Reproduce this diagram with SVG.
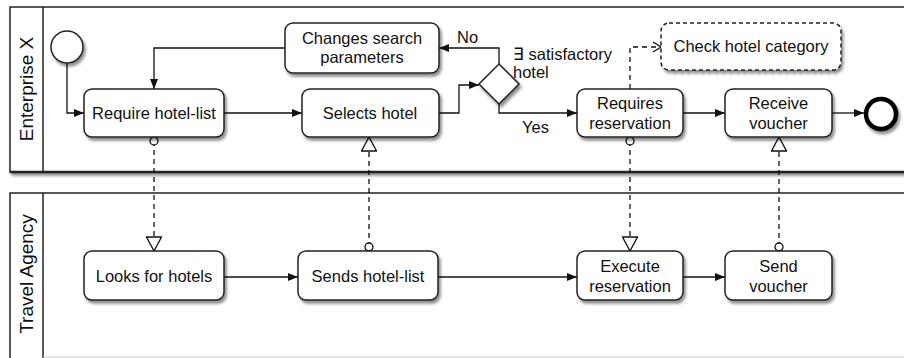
<svg xmlns="http://www.w3.org/2000/svg" width="904" height="358" viewBox="0 0 904 358">
<defs>
<style>
.pool{fill:#fff;stroke:#222;stroke-width:1.5}
.task{fill:#fff;stroke:#222;stroke-width:1.5}
.dtask{fill:#fff;stroke:#222;stroke-width:1.5;stroke-dasharray:4 3}
.t{font-family:"Liberation Sans",Arial,sans-serif;font-size:16.5px;fill:#111;text-anchor:middle}
.lbl{font-family:"Liberation Sans",Arial,sans-serif;font-size:16.5px;fill:#111}
.pl{font-family:"Liberation Sans",Arial,sans-serif;font-size:19px;fill:#111;text-anchor:middle}
.seq{fill:none;stroke:#111;stroke-width:1.3;marker-end:url(#arr)}
.msg{fill:none;stroke:#111;stroke-width:1.3;stroke-dasharray:5 4;marker-start:url(#mcirc);marker-end:url(#mtri)}
.assoc{fill:none;stroke:#111;stroke-width:1.3;stroke-dasharray:5 4;marker-end:url(#vopen)}
</style>
<filter id="sh" x="-10%" y="-10%" width="130%" height="140%">
<feDropShadow dx="2" dy="3" stdDeviation="1.5" flood-color="#000" flood-opacity="0.45"/>
</filter>
<marker id="arr" viewBox="0 0 10 10" refX="10" refY="5" markerWidth="10" markerHeight="10" markerUnits="userSpaceOnUse" orient="auto">
<path d="M0,1 L10,5 L0,9 Z" fill="#111"/>
</marker>
<marker id="mtri" viewBox="0 0 16 16" refX="15" refY="8" markerWidth="16" markerHeight="16" markerUnits="userSpaceOnUse" orient="auto">
<path d="M1,0.5 L15,8 L1,15.5 Z" fill="#fff" stroke="#111" stroke-width="1.3"/>
</marker>
<marker id="mcirc" viewBox="0 0 10 10" refX="5" refY="5" markerWidth="10" markerHeight="10" markerUnits="userSpaceOnUse" orient="auto">
<circle cx="5" cy="5" r="4" fill="#fff" stroke="#111" stroke-width="1.3"/>
</marker>
<marker id="vopen" viewBox="0 0 10 12" refX="9" refY="6" markerWidth="10" markerHeight="12" markerUnits="userSpaceOnUse" orient="auto">
<path d="M1,1 L9,6 L1,11" fill="none" stroke="#111" stroke-width="1.3"/>
</marker>
</defs>

<g id="pool-enterprise">
<rect class="pool" x="10" y="7" width="900" height="165" filter="url(#sh)"/>
<line x1="10" y1="172" x2="904" y2="172" stroke="#222" stroke-width="2.5"/>
<line x1="43" y1="7" x2="43" y2="172" stroke="#222" stroke-width="1.5"/>
<text class="pl" transform="translate(33,89) rotate(-90)">Enterprise X</text>
</g>
<g id="pool-travel">
<rect class="pool" x="10" y="193" width="900" height="175"/>
<line x1="43" y1="193" x2="43" y2="358" stroke="#222" stroke-width="1.5"/>
<line x1="43" y1="357" x2="904" y2="357" stroke="#ccc" stroke-width="1"/>
<text class="pl" transform="translate(33,274) rotate(-90)">Travel Agency</text>
</g>

<g id="connectors">
<path class="seq" d="M67,63 V113 H84"/>
<path class="seq" d="M285,48 H154 V89"/>
<path class="seq" d="M224,113 H302"/>
<path class="seq" d="M439,113 H459 V85 H479"/>
<path class="seq" d="M499,64 V48 H439"/>
<path class="seq" d="M499,104 V113 H577"/>
<path class="seq" d="M683,113 H725"/>
<path class="seq" d="M832,113 H864"/>
<path class="seq" d="M224,277 H298"/>
<path class="seq" d="M438,277 H577"/>
<path class="seq" d="M683,277 H725"/>
<path class="msg" d="M154,141 V251"/>
<path class="msg" d="M369,247 V137"/>
<path class="msg" d="M630,141 V251"/>
<path class="msg" d="M779,247 V137"/>
<path class="assoc" d="M630,89 V47 H661"/>
<text class="lbl" x="457" y="43">No</text>
<text class="lbl" x="522" y="133">Yes</text>
</g>

<g id="start">
<circle cx="67" cy="47" r="16" fill="#fff" stroke="#222" stroke-width="1.5" filter="url(#sh)"/>
</g>
<g id="require-hotel-list">
<rect class="task" x="84" y="89" width="140" height="48" rx="8" filter="url(#sh)"/>
<text class="t" x="154" y="119">Require hotel-list</text>
</g>
<g id="changes-search">
<rect class="task" x="285" y="23" width="154" height="50" rx="8" filter="url(#sh)"/>
<text class="t" x="362" y="44">Changes search</text>
<text class="t" x="362" y="63">parameters</text>
</g>
<g id="selects-hotel">
<rect class="task" x="302" y="89" width="137" height="48" rx="8" filter="url(#sh)"/>
<text class="t" x="370" y="119">Selects hotel</text>
</g>
<g id="gateway">
<path d="M499,64 L519,84 L499,104 L479,84 Z" fill="#fff" stroke="#222" stroke-width="1.5" filter="url(#sh)"/>
<text class="lbl" x="513" y="59.5">∃ satisfactory</text>
<text class="lbl" x="513" y="78">hotel</text>
</g>
<g id="check-hotel-category">
<rect class="dtask" x="661" y="23" width="180" height="47" rx="8" filter="url(#sh)"/>
<text class="t" x="751" y="52">Check hotel category</text>
</g>
<g id="requires-reservation">
<rect class="task" x="577" y="89" width="106" height="48" rx="8" filter="url(#sh)"/>
<text class="t" x="630" y="109">Requires</text>
<text class="t" x="630" y="129">reservation</text>
</g>
<g id="receive-voucher">
<rect class="task" x="725" y="89" width="107" height="48" rx="8" filter="url(#sh)"/>
<text class="t" x="778.5" y="109">Receive</text>
<text class="t" x="778.5" y="129">voucher</text>
</g>
<g id="end">
<circle cx="881" cy="114" r="15" fill="#fff" stroke="#000" stroke-width="4.5" filter="url(#sh)"/>
</g>
<g id="looks-for-hotels">
<rect class="task" x="84" y="251" width="140" height="49" rx="8" filter="url(#sh)"/>
<text class="t" x="154" y="282">Looks for hotels</text>
</g>
<g id="sends-hotel-list">
<rect class="task" x="298" y="251" width="140" height="49" rx="8" filter="url(#sh)"/>
<text class="t" x="368" y="282">Sends hotel-list</text>
</g>
<g id="execute-reservation">
<rect class="task" x="577" y="251" width="106" height="49" rx="8" filter="url(#sh)"/>
<text class="t" x="630" y="272">Execute</text>
<text class="t" x="630" y="292">reservation</text>
</g>
<g id="send-voucher">
<rect class="task" x="725" y="251" width="107" height="49" rx="8" filter="url(#sh)"/>
<text class="t" x="778.5" y="272">Send</text>
<text class="t" x="778.5" y="292">voucher</text>
</g>
</svg>
